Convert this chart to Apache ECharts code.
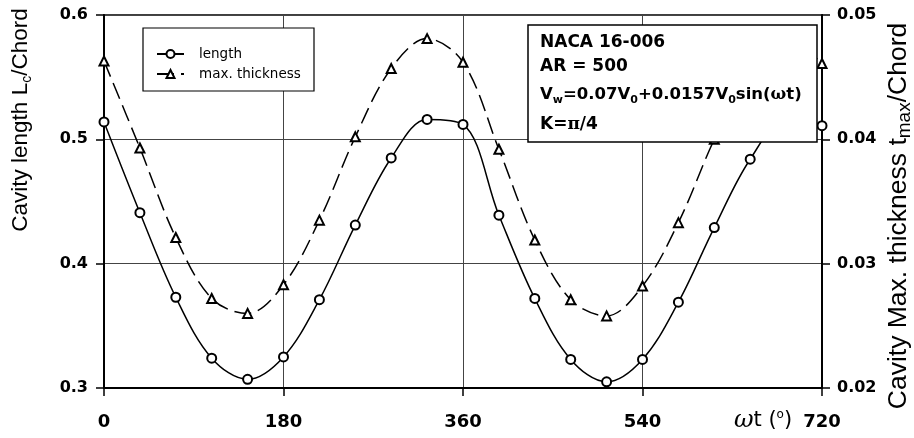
<!DOCTYPE html>
<html>
<head>
<meta charset="utf-8">
<script src="https://cdn.jsdelivr.net/npm/echarts@6/dist/echarts.min.js"></script>
<style>
  html, body { margin: 0; padding: 0; background: #fff; }
  #chart { width: 914px; height: 438px; }
</style>
</head>
<body>
<div id="chart"></div>
<script>
// Phase angle omega*t in degrees
const phase = [0, 36, 72, 108, 144, 180, 216, 252, 288, 324, 360,
               396, 432, 468, 504, 540, 576, 612, 648, 684, 720];
// Cavity length Lc/Chord (left axis)
const cavityLength = [0.514, 0.441, 0.373, 0.324, 0.307, 0.325, 0.371, 0.431, 0.485, 0.516, 0.512,
                      0.439, 0.372, 0.323, 0.305, 0.323, 0.369, 0.429, 0.484, 0.515, 0.511];
// Cavity max. thickness tmax/Chord (right axis)
const maxThickness = [0.0463, 0.0393, 0.0321, 0.0272, 0.0260, 0.0283, 0.0335, 0.0402, 0.0457, 0.0481, 0.0462,
                      0.0392, 0.0319, 0.0271, 0.0258, 0.0282, 0.0333, 0.0400, 0.0456, 0.0480, 0.0461];

// Axis ranges and tick steps
const xTicks = { min: 0, max: 720, step: 180 };
const lengthTicks = { min: 0.3, max: 0.6, step: 0.1 };
const thicknessTicks = { min: 0.02, max: 0.05, step: 0.01 };

const seriesNames = ['length', 'max. thickness'];
const infoLines = ['NACA 16-006', 'AR = 500'];

const chart = echarts.init(document.getElementById('chart'));

const tickFont = { color: '#000', fontFamily: 'DejaVu Sans', fontWeight: 'bold', fontSize: 16 };
const nameFont = 'Liberation Sans';

chart.setOption({
  animation: false,
  backgroundColor: '#fff',
  grid: {
    left: 104, right: 92, top: 15, bottom: 50,
    show: true, borderColor: '#000', borderWidth: 1.5, backgroundColor: 'transparent'
  },
  legend: {
    orient: 'vertical',
    left: 151, top: 42,
    itemWidth: 27, itemHeight: 10, itemGap: 6,
    data: seriesNames,
    textStyle: { color: '#000', fontFamily: 'DejaVu Sans', fontSize: 13.5, padding: [0, 0, 0, 10] },
    z: 10
  },
  xAxis: {
    type: 'value',
    min: xTicks.min, max: xTicks.max, interval: xTicks.step,
    axisLine: { show: true, lineStyle: { color: '#000', width: 2 } },
    axisTick: { show: true, inside: false, length: 8, lineStyle: { color: '#000', width: 1.5 } },
    axisLabel: { ...tickFont, fontSize: 18, margin: 25 },
    splitLine: { show: true, lineStyle: { color: '#444', width: 1 } }
  },
  yAxis: [
    {
      type: 'value', position: 'left',
      min: lengthTicks.min, max: lengthTicks.max, interval: lengthTicks.step,
      axisLine: { show: true, lineStyle: { color: '#000', width: 2 } },
      axisTick: { show: true, inside: false, length: 8, lineStyle: { color: '#000', width: 1.5 } },
      axisLabel: { ...tickFont, margin: 16, formatter: v => v.toFixed(1) },
      splitLine: { show: true, lineStyle: { color: '#444', width: 1 } }
    },
    {
      type: 'value', position: 'right',
      min: thicknessTicks.min, max: thicknessTicks.max, interval: thicknessTicks.step,
      axisLine: { show: true, lineStyle: { color: '#000', width: 2 } },
      axisTick: { show: true, inside: false, length: 8, lineStyle: { color: '#000', width: 1.5 } },
      axisLabel: { ...tickFont, margin: 15, formatter: v => v.toFixed(2) },
      splitLine: { show: false }
    }
  ],
  series: [
    {
      name: seriesNames[0], type: 'line', yAxisIndex: 0, smooth: 0.35,
      data: phase.map((p, i) => [p, cavityLength[i]]),
      symbol: 'emptyCircle', symbolSize: 9,
      itemStyle: { color: '#000', borderWidth: 1.2 },
      lineStyle: { color: '#000', width: 1.5, type: 'solid' },
      z: 3
    },
    {
      name: seriesNames[1], type: 'line', yAxisIndex: 1, smooth: 0.35,
      data: phase.map((p, i) => [p, maxThickness[i]]),
      symbol: 'emptyTriangle', symbolSize: 9,
      itemStyle: { color: '#000', borderWidth: 1.2 },
      lineStyle: { color: '#000', width: 1.5, type: [17, 7] },
      z: 3
    }
  ],
  graphic: [
    // legend frame
    {
      type: 'rect', z: 5,
      shape: { x: 143, y: 28, width: 171, height: 63 },
      style: { fill: '#fff', stroke: '#000', lineWidth: 1.2 }
    },
    // info box, drawn over the curves
    {
      type: 'group', z: 100,
      children: [
        {
          type: 'rect', z: 100,
          shape: { x: 528, y: 25, width: 289, height: 117 },
          style: { fill: '#fff', stroke: '#000', lineWidth: 1.5 }
        },
        {
          type: 'text', z: 101, x: 540, y: 43,
          style: { text: infoLines[0], fill: '#000', font: 'bold 17px "DejaVu Sans"', verticalAlign: 'middle' }
        },
        {
          type: 'text', z: 101, x: 540, y: 67,
          style: { text: infoLines[1], fill: '#000', font: 'bold 17px "DejaVu Sans"', verticalAlign: 'middle' }
        },
        {
          type: 'text', z: 101, x: 540, y: 95,
          style: {
            text: '{n|V}{s|w}{n|=0.07V}{s|0}{n|+0.0157V}{s|0}{n|sin(}{g|ω}{n|t)}',
            verticalAlign: 'middle',
            rich: {
              n: { fill: '#000', fontFamily: 'DejaVu Sans', fontWeight: 'bold', fontSize: 16.5, lineHeight: 22 },
              s: { fill: '#000', fontFamily: 'DejaVu Sans', fontWeight: 'bold', fontSize: 11, lineHeight: 12, verticalAlign: 'bottom' },
              g: { fill: '#000', fontFamily: 'DejaVu Serif', fontWeight: 'bold', fontSize: 16.5, lineHeight: 22 }
            }
          }
        },
        {
          type: 'text', z: 101, x: 540, y: 125,
          style: {
            text: '{n|K=}{g|π}{n|/4}',
            verticalAlign: 'middle',
            rich: {
              n: { fill: '#000', fontFamily: 'DejaVu Sans', fontWeight: 'bold', fontSize: 17, lineHeight: 22 },
              g: { fill: '#000', fontFamily: 'DejaVu Serif', fontWeight: 'bold', fontSize: 17, lineHeight: 22 }
            }
          }
        }
      ]
    },
    // left axis title
    {
      type: 'text', z: 20, x: 21, y: 120, rotation: Math.PI / 2,
      style: {
        text: '{n|Cavity length L}{s|c}{n|/Chord}',
        align: 'center', verticalAlign: 'middle',
        rich: {
          n: { fill: '#000', fontFamily: nameFont, fontSize: 22.5, lineHeight: 26 },
          s: { fill: '#000', fontFamily: nameFont, fontSize: 14, lineHeight: 14, verticalAlign: 'bottom' }
        }
      }
    },
    // right axis title
    {
      type: 'text', z: 20, x: 899, y: 216, rotation: Math.PI / 2,
      style: {
        text: '{n|Cavity Max. thickness t}{s|max}{n|/Chord}',
        align: 'center', verticalAlign: 'middle',
        rich: {
          n: { fill: '#000', fontFamily: nameFont, fontSize: 26.5, lineHeight: 30 },
          s: { fill: '#000', fontFamily: nameFont, fontSize: 19, lineHeight: 17, verticalAlign: 'bottom' }
        }
      }
    },
    // x axis title
    {
      type: 'text', z: 20, x: 763, y: 421,
      style: {
        text: '{w|ω}{n|t (}{o|o}{n|)}',
        align: 'center', verticalAlign: 'middle',
        rich: {
          w: { fill: '#000', fontFamily: 'DejaVu Serif', fontStyle: 'italic', fontSize: 24, lineHeight: 24 },
          n: { fill: '#000', fontFamily: 'DejaVu Sans', fontSize: 21, lineHeight: 24 },
          o: { fill: '#000', fontFamily: 'DejaVu Sans', fontSize: 12, lineHeight: 12, verticalAlign: 'top' }
        }
      }
    }
  ]
});
</script>
</body>
</html>
